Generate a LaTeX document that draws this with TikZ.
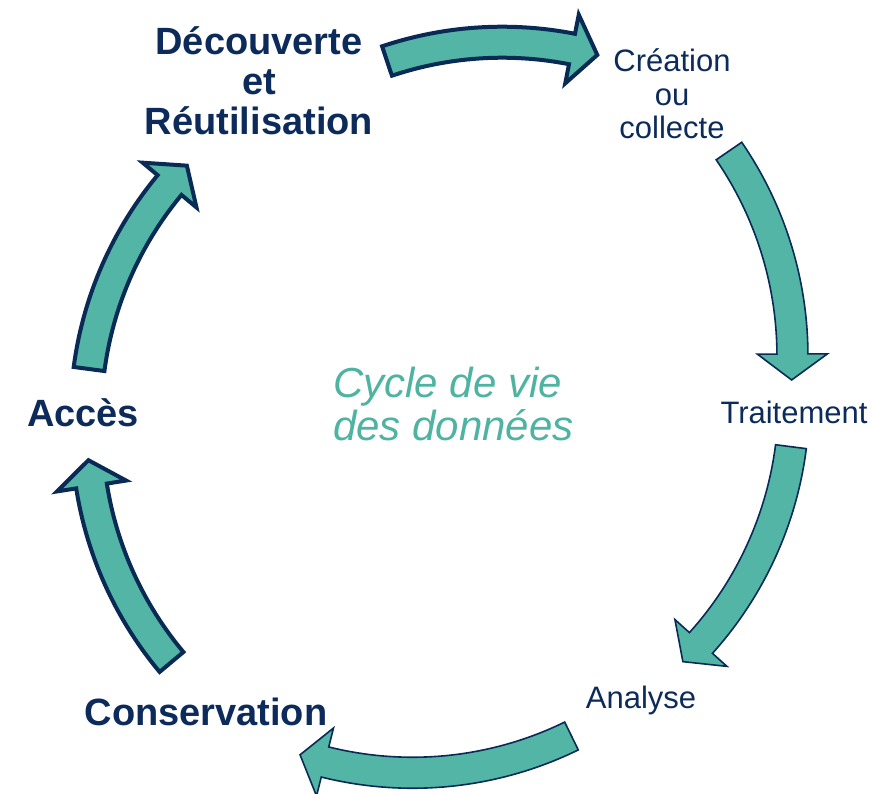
\documentclass[tikz,border=0pt]{standalone}
\usepackage{fontspec}
\setmainfont{Liberation Sans}
\definecolor{cycfill}{HTML}{52B5A5}
\definecolor{cycline}{HTML}{0A2A56}
\definecolor{cyctext}{HTML}{0C2B5A}
\definecolor{cyctitle}{HTML}{4FB3A2}

% curved cycle arrow: #1 style, tail centre (#2,#3), head-base centre (#4,#5);
% the body follows a circle of radius \cyR that passes through both points
\newcommand\cyclearrow[5]{%
  \pgfmathsetmacro\cyDx{#4-#2}%
  \pgfmathsetmacro\cyDy{#5-#3}%
  \pgfmathsetmacro\cyC{veclen(\cyDx,\cyDy)}%
  \pgfmathsetmacro\cyH{sqrt(\cyR*\cyR-\cyC*\cyC/4)}%
  \pgfmathsetmacro\cyX{(#2+#4)/2-\cyH*\cyDy/\cyC}%
  \pgfmathsetmacro\cyY{(#3+#5)/2+\cyH*\cyDx/\cyC}%
  \pgfmathsetmacro\cyA{atan2(#3-\cyY,#2-\cyX)}%
  \pgfmathsetmacro\cyB{atan2(#5-\cyY,#4-\cyX)}%
  \pgfmathsetmacro\cyB{\cyB<\cyA ? \cyB+360 : \cyB}%
  \pgfmathsetmacro\cyT{\cyB+deg(\cyL/\cyR)}%
  \pgfmathsetmacro\cyRo{\cyR+\cyW}%
  \pgfmathsetmacro\cyRi{\cyR-\cyW}%
  \pgfmathsetmacro\cyRho{\cyR+\cyHW}%
  \pgfmathsetmacro\cyRhi{\cyR-\cyHW}%
  \draw[#1,shift={(\cyX,\cyY)}]
    (\cyA:\cyRo) arc[start angle=\cyA,end angle=\cyB,radius=\cyRo]
    -- (\cyB:\cyRho) -- (\cyT:\cyR) -- (\cyB:\cyRhi) -- (\cyB:\cyRi)
    arc[start angle=\cyB,end angle=\cyA,radius=\cyRi] -- cycle;%
}
\def\cyR{36.2}   % arc radius
\def\cyW{1.55}   % half width of the body
\def\cyHW{3.5}   % half width of the head
\def\cyL{2.6}    % head length

\begin{document}
\begin{tikzpicture}[x=10pt,y=-10pt,
  arrowheavy/.style={fill=cycfill,draw=cycline,line width=4pt},
  arrowlight/.style={fill=cycfill,draw=cycline,line width=1.6pt},
  stagebold/.style={text=cyctext,font=\bfseries\fontsize{38}{40}\selectfont,align=center,inner sep=0pt},
  stagelight/.style={text=cyctext,font=\fontsize{31}{33.3}\selectfont,align=center,inner sep=0pt},
  cycletitle/.style={text=cyctitle,font=\itshape\fontsize{42}{43}\selectfont,align=left,inner sep=0pt}]
\useasboundingbox (0,0) rectangle (87.6,79.3);

% arrows, clockwise from the top
\cyclearrow{arrowheavy}{38.7}{6.1}{57.2}{4.9}
\cyclearrow{arrowlight}{72.9}{15.1}{79.25}{35.4}
\cyclearrow{arrowlight}{79.1}{44.67}{70.1}{64.3}
\cyclearrow{arrowlight}{57.15}{73.6}{32.5}{76.2}
\cyclearrow{arrowheavy}{17.15}{66.2}{9.15}{48.6}
\cyclearrow{arrowheavy}{8.9}{36.9}{16.95}{18.5}

% stages (base anchor = baseline of the last line)
\node[stagebold,anchor=base] (decouverte) at (25.9,13.43) {Découverte\\et\\Réutilisation};
\node[stagelight,anchor=base] (creation) at (67.2,13.83) {Création\\ou\\collecte};
\node[stagelight,anchor=base] (traitement) at (79.4,42.33) {Traitement};
\node[stagelight,anchor=base] (analyse) at (64.1,70.8) {Analyse};
\node[stagebold,anchor=base] (conservation) at (20.6,72.5) {Conservation};
\node[stagebold,anchor=base] (acces) at (8.3,42.67) {Accès};

% centre title
\node[cycletitle,anchor=base west] (titre) at (33.3,44.0) {Cycle de vie\\des données};
\end{tikzpicture}
\end{document}
